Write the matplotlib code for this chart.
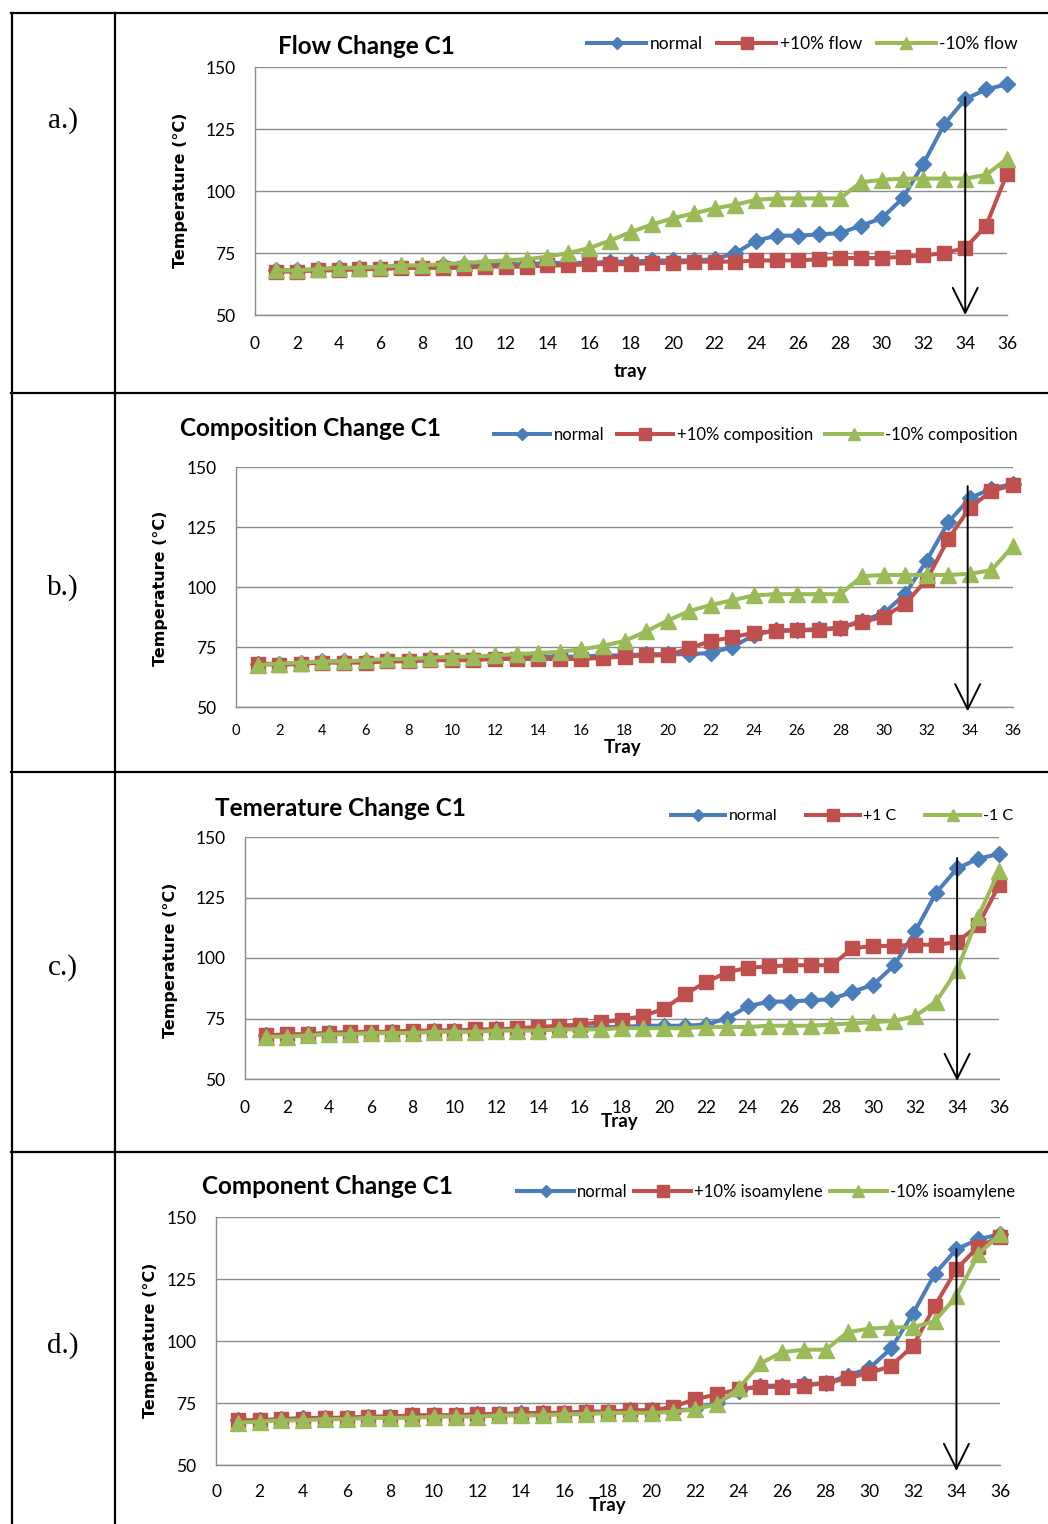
import matplotlib
matplotlib.use('Agg')
import matplotlib.pyplot as plt
from matplotlib.lines import Line2D

# ---------------- data ----------------
trays = list(range(1, 37))

normal = [68, 68, 68.5, 69, 69, 69, 69.5, 69.5, 70, 70, 70, 70.5, 70.5, 71, 71, 71, 71.5, 71.5,
          72, 72, 72, 72.5, 75, 80, 82, 82, 82.5, 83, 86, 89, 97, 111, 127, 137, 141, 143]

flow_plus = [67.5, 67.5, 68, 68, 68.5, 68.5, 69, 69, 69, 69, 69.5, 69.5, 69.5, 70, 70, 70.5, 70.5, 70.5,
             71, 71, 71.5, 71.5, 71.5, 72, 72, 72, 72.5, 73, 73, 73, 73.5, 74, 75, 77, 86, 107]
flow_minus = [68, 68, 68.5, 69, 69, 69.5, 70, 70, 70.5, 71, 71.5, 72, 72.5, 73.5, 75, 77, 80, 83.5,
              86.5, 89, 91, 93, 94.5, 96.5, 97, 97, 97, 97, 103.5, 104.5, 105, 105, 105, 105, 106.5, 113]

comp_plus = [68, 67.5, 68, 68.5, 68.5, 68.5, 69, 69, 69.5, 69.5, 69.5, 70, 70, 70, 70, 70, 70.5, 71,
             71.5, 71.5, 74.5, 77.5, 79, 81, 81.5, 82, 82, 83, 85.5, 87.5, 93, 103, 120, 133, 140, 142.5]
comp_minus = [67.5, 68, 68.5, 69, 69, 69.5, 70, 70, 70.5, 71, 71, 71.5, 72, 72.5, 73, 74, 75.5, 77.5,
              81.5, 86, 90, 92.5, 94.5, 96.5, 97, 97, 97, 97, 104.5, 105, 105, 105, 105, 105.5, 107, 117]

temp_plus = [68, 68.5, 68.5, 69, 69.5, 69.5, 69.5, 70, 70, 70, 70.5, 70.5, 71, 71.5, 72, 72.5, 73.5, 74.5,
             76, 79, 85, 90, 94, 96, 96.5, 97, 97, 97, 104, 105, 105, 105.5, 105.5, 106.5, 113.5, 130]
temp_minus = [67.5, 67.5, 68, 68.5, 68.5, 69, 69, 69, 69.5, 69.5, 69.5, 70, 70, 70, 70.5, 70.5, 70.5, 71,
              71, 71, 71, 71.5, 71.5, 71.5, 72, 72, 72, 72.5, 73, 73.5, 74, 76, 82, 95, 117, 136]

iso_plus = [68, 68, 68.5, 68.5, 69, 69, 69.5, 69.5, 70, 70, 70, 70.5, 70.5, 70.5, 71, 71, 71.5, 71.5,
            72, 72, 73.5, 76.5, 78.5, 80.5, 81.5, 81.5, 82, 83, 85, 87, 90, 98, 114, 129, 138, 142]
iso_minus = [67, 67.5, 68, 68, 68.5, 68.5, 69, 69, 69, 69.5, 69.5, 69.5, 70, 70, 70, 70.5, 70.5, 71,
             71, 71, 71.5, 72.5, 74.5, 81, 91, 95.5, 96.5, 96.5, 103.5, 105, 105.5, 105.5, 108, 118, 135, 143]

titles = ["Flow Change C1", "Composition Change C1", "Temerature Change C1", "Component Change C1"]
legend_labels = [["normal", "+10% flow", "-10% flow"],
                 ["normal", "+10% composition", "-10% composition"],
                 ["normal", "+1 C", "-1 C"],
                 ["normal", "+10% isoamylene", "-10% isoamylene"]]
xlabels = ["tray", "Tray", "Tray", "Tray"]
row_labels = ["a.)", "b.)", "c.)", "d.)"]
plus_series = [flow_plus, comp_plus, temp_plus, iso_plus]
minus_series = [flow_minus, comp_minus, temp_minus, iso_minus]
arrow_x = [34, 33.9, 34, 34]
arrow_top = [137.8, 142, 141.3, 137]
arrow_bottom = [50, 48.2, 49.2, 47.6]
xticks = list(range(0, 37, 2))
yticks = [50, 75, 100, 125, 150]

# ---------------- layout ----------------
W, H = 1048, 1524
fig = plt.figure(figsize=(W / 100, H / 100), dpi=100)

def fx(x):
    return x / W

def fy(y):
    return 1 - y / H

# table lines
tl = dict(color='black', lw=1.6, transform=fig.transFigure)
fig.add_artist(Line2D([fx(12), fx(12)], [fy(13), fy(1524)], **tl))
fig.add_artist(Line2D([fx(115), fx(115)], [fy(13), fy(1524)], **tl))
for yy in [13, 393, 772, 1152]:
    fig.add_artist(Line2D([fx(11), fx(1048)], [fy(yy), fy(yy)], **tl))

row_label_y = [121, 588, 968, 1346]
for lab, yy in zip(row_labels, row_label_y):
    fig.text(fx(63), fy(yy), lab, family='Liberation Serif', fontsize=21,
             ha='center', va='center')

# axes boxes in pixels: x0, x1, ytop, ybot
boxes = [(255, 1007, 67, 315), (236, 1013, 467, 707), (245, 999, 837, 1079), (216, 1000, 1217, 1465)]
title_pos = [(278, 47), (180, 429), (215, 808), (202, 1187)]
legend_pos = [(1018, 44), (1018, 435), (1013, 816), (1015, 1192)]
legend_colsp = [0.85, 0.75, 1.8, 0.4]
legend_size = [12.5, 12, 11.5, 12]
xlabel_pos = [(630, 372), (623, 748), (620, 1122), (608, 1506)]
ylabel_pos = [(180, 190), (160, 588), (170, 960), (150, 1340)]
xtick_size = [12.5, 10.5, 12.5, 12.5]
xtick_pad = [15, 12, 15, 14]

BLUE = '#4A7EBB'
RED = '#C0504D'
GREEN = '#9BBB59'
GRID = '#8C8C8C'
TICKFONT = 'Lato'

for i in range(4):
    x0, x1, yt, yb = boxes[i]
    ax = fig.add_axes([fx(x0), fy(yb), (x1 - x0) / W, (yb - yt) / H])
    ax.set_xlim(0, 36)
    ax.set_ylim(50, 150)
    ax.set_xticks(xticks)
    ax.set_yticks(yticks)
    ax.yaxis.grid(True, color=GRID, lw=1.0)
    ax.set_axisbelow(True)
    for s in ['top', 'right']:
        ax.spines[s].set_visible(False)
    for s in ['left', 'bottom']:
        ax.spines[s].set_color(GRID)
        ax.spines[s].set_linewidth(1.0)
    ax.tick_params(axis='both', length=0)
    ax.tick_params(axis='x', pad=xtick_pad[i], labelsize=xtick_size[i])
    ax.tick_params(axis='y', pad=14, labelsize=12.5)
    for t in ax.get_xticklabels() + ax.get_yticklabels():
        t.set_family(TICKFONT)

    ax.plot(trays, normal, color=BLUE, lw=2.9, marker='D', ms=8.5,
            mec=BLUE, mfc=BLUE, clip_on=False, zorder=3)
    ax.plot(trays, plus_series[i], color=RED, lw=2.9, marker='s', ms=10,
            mec=RED, mfc=RED, clip_on=False, zorder=4)
    ax.plot(trays, minus_series[i], color=GREEN, lw=2.9, marker='^', ms=11,
            mec=GREEN, mfc=GREEN, clip_on=False, zorder=5)

    ax.annotate('', xy=(arrow_x[i], arrow_bottom[i]), xytext=(arrow_x[i], arrow_top[i]),
                arrowprops=dict(arrowstyle='->,head_length=0.9,head_width=0.45',
                                color='black', lw=1.4, mutation_scale=20,
                                shrinkA=0, shrinkB=0),
                zorder=10, annotation_clip=False)

    hs = [Line2D([], [], color=BLUE, lw=2.9, marker='D', ms=6),
          Line2D([], [], color=RED, lw=2.9, marker='s', ms=8),
          Line2D([], [], color=GREEN, lw=2.9, marker='^', ms=8)]
    lx, ly = legend_pos[i]
    fig.legend(hs, legend_labels[i], loc='center right',
               bbox_to_anchor=(fx(lx), fy(ly)), bbox_transform=fig.transFigure,
               ncol=3, frameon=False, handlelength=3.4, handletextpad=0.2,
               columnspacing=legend_colsp[i], borderpad=0, borderaxespad=0,
               prop=dict(family=TICKFONT, size=legend_size[i]))

    tx, ty = title_pos[i]
    fig.text(fx(tx), fy(ty), titles[i], family='Lato', weight='bold', fontsize=17.5,
             ha='left', va='center')
    xx, xy = xlabel_pos[i]
    fig.text(fx(xx), fy(xy), xlabels[i], family='Lato', weight='bold', fontsize=13.5,
             ha='center', va='center')
    yx, yy = ylabel_pos[i]
    fig.text(fx(yx), fy(yy), 'Temperature (°C)', family='DejaVu Sans', weight='bold',
             fontsize=11.5, rotation=90, ha='center', va='center')

fig.savefig('out.png', dpi=100)
